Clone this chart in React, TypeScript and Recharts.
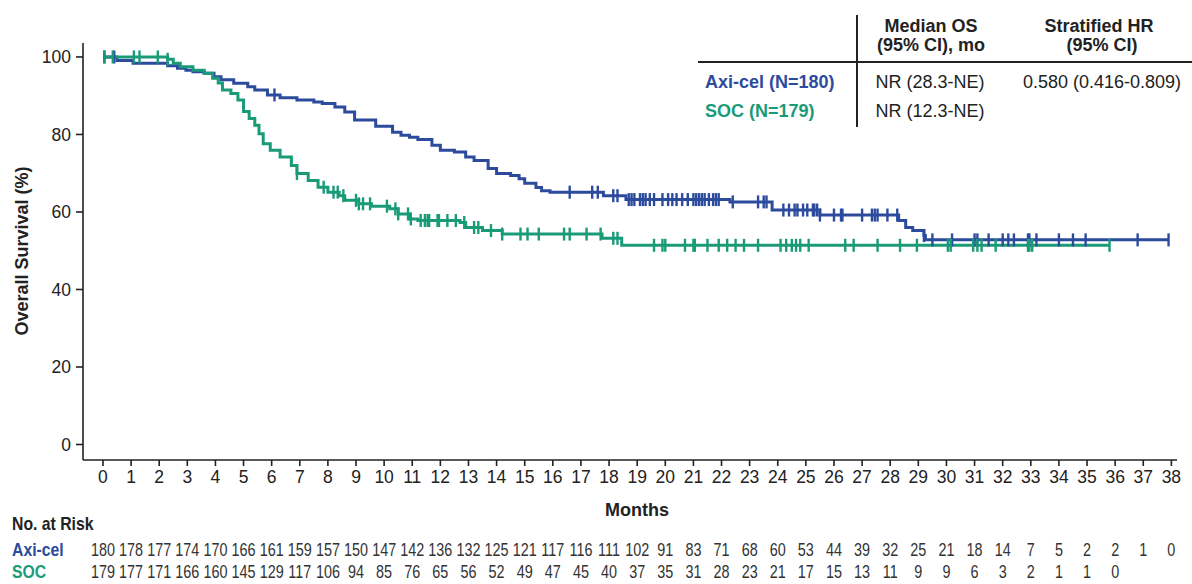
import React from 'react';
import { ComposedChart, Line, Scatter, XAxis, YAxis } from 'recharts';

const BLUE = '#2c4b9d';
const GREEN = '#1a9b78';
const INK = '#222222';
const FONT = "'Liberation Sans', Arial, sans-serif";

const monthTicks = [0, 1, 2, 3, 4, 5, 6, 7, 8, 9, 10, 11, 12, 13, 14, 15, 16, 17, 18, 19, 20, 21, 22, 23, 24, 25, 26, 27, 28, 29, 30, 31, 32, 33, 34, 35, 36, 37, 38];
const survivalTicks = [0, 20, 40, 60, 80, 100];

const axiTimes = [0, 0.5, 1.07, 2.3, 2.65, 2.95, 3.2, 3.6, 3.95, 4.2, 4.65, 5.15, 5.4, 5.85, 6.3, 6.9, 7.5, 7.8, 8.25, 8.6, 8.95, 9.7, 10.3, 10.6, 10.9, 11.2, 11.7, 12.0, 12.5, 12.9, 13.2, 13.7, 14.0, 14.5, 14.8, 15.0, 15.4, 15.6, 15.9, 17.8, 18.6, 22.3, 23.8, 25.5, 28.3, 28.55, 28.8, 29.2, 29.25, 37.9];
const axiSurv = [100, 99.1, 98.4, 97.7, 97.1, 96.6, 96.2, 95.8, 94.9, 94.1, 93.2, 92.3, 91.5, 90.2, 89.5, 88.9, 88.4, 88.0, 87.1, 85.8, 83.7, 82.1, 80.6, 79.8, 79.3, 78.7, 77.2, 75.9, 75.5, 74.2, 73.3, 71.2, 69.9, 69.4, 68.6, 67.4, 66.3, 65.5, 65.1, 64.2, 63.2, 62.6, 60.5, 59.2, 57.8, 56.0, 55.2, 53.9, 52.8, 52.8];

const socTimes = [0, 2.3, 2.5, 2.75, 3.2, 3.6, 3.9, 4.1, 4.25, 4.55, 4.8, 5.0, 5.2, 5.4, 5.55, 5.7, 5.95, 6.3, 6.7, 6.9, 7.3, 7.65, 8.0, 8.4, 8.6, 9.1, 9.55, 10.2, 10.5, 10.9, 11.2, 12.7, 12.9, 13.5, 14.2, 17.75, 18.45, 35.8];
const socSurv = [100, 99.4, 98.4, 97.5, 96.6, 95.8, 94.5, 93.3, 91.5, 90.6, 88.9, 85.9, 84.1, 82.4, 80.2, 77.6, 75.9, 74.2, 72.0, 69.9, 68.1, 66.4, 65.1, 64.2, 63.0, 62.1, 61.5, 60.8, 59.5, 58.2, 57.8, 57.3, 56.0, 55.2, 54.3, 53.2, 51.4, 51.4];

const axiCensor = [0.05, 0.4, 6.1, 16.6, 17.4, 17.6, 18.15, 18.3, 18.7, 18.8, 18.9, 19.1, 19.2, 19.3, 19.45, 19.6, 19.9, 20.1, 20.25, 20.4, 20.6, 20.8, 21.0, 21.1, 21.2, 21.3, 21.4, 21.55, 21.7, 21.8, 21.9, 22.4, 23.3, 23.5, 23.6, 24.2, 24.4, 24.6, 24.7, 24.9, 25.05, 25.25, 25.3, 25.4, 25.5, 26.0, 26.25, 26.3, 27.0, 27.35, 27.45, 27.55, 27.9, 28.25, 29.2, 29.5, 30.2, 31.0, 31.1, 31.5, 32.0, 32.2, 32.4, 32.9, 32.95, 33.2, 34.0, 34.5, 34.95, 36.8, 37.9];
const socCensor = [0.05, 0.35, 1.1, 1.3, 1.95, 2.3, 6.9, 7.85, 8.2, 8.35, 8.55, 9.0, 9.1, 9.25, 9.5, 10.1, 10.4, 10.5, 10.85, 10.95, 11.3, 11.45, 11.55, 11.6, 11.9, 11.95, 12.25, 12.55, 12.85, 13.2, 13.35, 13.8, 14.2, 14.85, 15.1, 15.5, 16.4, 16.6, 17.2, 17.7, 18.15, 18.3, 19.6, 19.9, 20.0, 20.7, 21.0, 21.05, 21.5, 21.9, 22.2, 22.5, 22.8, 23.3, 24.1, 24.3, 24.5, 24.65, 24.8, 25.1, 26.4, 26.7, 27.55, 28.35, 28.95, 30.05, 30.15, 30.95, 31.1, 31.25, 31.75, 32.9, 32.95, 33.05, 35.8];

const axiAtRisk = [180, 178, 177, 174, 170, 166, 161, 159, 157, 150, 147, 142, 136, 132, 125, 121, 117, 116, 111, 102, 91, 83, 71, 68, 60, 53, 44, 39, 32, 25, 21, 18, 14, 7, 5, 2, 2, 1, 0];
const socAtRisk = [179, 177, 171, 166, 160, 145, 129, 117, 106, 94, 85, 76, 65, 56, 52, 49, 47, 45, 40, 37, 35, 31, 28, 23, 21, 17, 15, 13, 11, 9, 9, 6, 3, 2, 1, 1, 0];

const toSteps = (times: number[], surv: number[]) => times.map((t, i) => ({ t, s: surv[i] }));
const survAt = (times: number[], surv: number[], t: number) => {
  let s = surv[0];
  for (let i = 0; i < times.length; i++) if (times[i] <= t) s = surv[i];
  return s;
};
const toCensor = (cs: number[], times: number[], surv: number[]) => cs.map((t) => ({ t, s: survAt(times, surv, t) }));
const toRisk = (counts: number[]) => counts.map((n, i) => ({ t: monthTicks[i], s: 0, n }));

const axiData = toSteps(axiTimes, axiSurv);
const socData = toSteps(socTimes, socSurv);
const axiMarks = toCensor(axiCensor, axiTimes, axiSurv);
const socMarks = toCensor(socCensor, socTimes, socSurv);
const axiRiskData = toRisk(axiAtRisk);
const socRiskData = toRisk(socAtRisk);

const X_DOMAIN: [number, number] = [-0.71, 38.2];
const Y_DOMAIN: [number, number] = [-4, 103.6];

const makeTick = (color: string) => (props: any) => {
  const { cx, cy } = props;
  if (cx == null || cy == null) return <g />;
  return <line x1={cx} x2={cx} y1={cy - 6.5} y2={cy + 6.5} stroke={color} strokeWidth={2.4} />;
};
const Empty = () => <g />;

const makeRiskTick = (counts: number[]) => (props: any) => {
  const { x, y, payload } = props;
  const v = counts[payload?.value];
  if (v === undefined) return <g />;
  return (
    <text
      transform={`translate(${x},${y}) scale(0.8,1)`}
      x={0}
      y={0}
      dy="0.71em"
      textAnchor="middle"
      fontSize={18}
      fill="#333"
      fontFamily={FONT}
    >
      {String(v)}
    </text>
  );
};

const T = ({ x, y, children, style, anchor = 'middle' }: any) => (
  <div
    style={{
      position: 'absolute',
      left: x,
      top: y,
      transform: `translate(${anchor === 'middle' ? '-50%' : anchor === 'end' ? '-100%' : '0'}, -50%)`,
      whiteSpace: 'nowrap',
      lineHeight: 1,
      fontSize: 18,
      color: INK,
      ...style,
    }}
  >
    {children}
  </div>
);

const narrowLabel = { fontWeight: 'bold', fontSize: 19, transform: 'translate(0, -50%) scale(0.83, 1)', transformOrigin: '0 50%' };

export default function App() {
  return (
    <div style={{ position: 'absolute', left: 0, top: 0, width: 1192, height: 584, background: '#fff', fontFamily: FONT, overflow: 'hidden' }}>
      <ComposedChart width={1192} height={584} margin={{ top: 43, right: 15, bottom: 2, left: 0 }} style={{ fontFamily: FONT }}>
        <XAxis
          xAxisId={0}
          dataKey="t"
          type="number"
          domain={X_DOMAIN}
          ticks={monthTicks}
          interval={0}
          allowDataOverflow
          height={78}
          tickSize={6}
          tickMargin={5}
          stroke={INK}
          strokeWidth={1.6}
          tick={{ fontSize: 17.5, fill: INK }}
        />
        <XAxis
          xAxisId="axi"
          dataKey="t"
          type="number"
          domain={X_DOMAIN}
          ticks={monthTicks}
          interval={0}
          allowDataOverflow
          height={22}
          tickSize={0}
          tickMargin={5}
          axisLine={false}
          tickLine={false}
          tick={makeRiskTick(axiAtRisk)}
        />
        <XAxis
          xAxisId="soc"
          dataKey="t"
          type="number"
          domain={X_DOMAIN}
          ticks={monthTicks}
          interval={0}
          allowDataOverflow
          height={22}
          tickSize={0}
          tickMargin={5}
          axisLine={false}
          tickLine={false}
          tick={makeRiskTick(socAtRisk)}
        />
        <YAxis
          dataKey="s"
          type="number"
          domain={Y_DOMAIN}
          ticks={survivalTicks}
          interval={0}
          allowDataOverflow
          width={83}
          tickSize={7}
          tickMargin={5}
          stroke={INK}
          strokeWidth={1.6}
          tick={{ fontSize: 17.5, fill: INK }}
        />
        <Line data={axiData} dataKey="s" type="stepAfter" stroke={BLUE} strokeWidth={3} dot={false} activeDot={false} isAnimationActive={false} />
        <Line data={socData} dataKey="s" type="stepAfter" stroke={GREEN} strokeWidth={3} dot={false} activeDot={false} isAnimationActive={false} />
        <Scatter data={axiMarks} dataKey="s" shape={makeTick(BLUE)} isAnimationActive={false} />
        <Scatter data={socMarks} dataKey="s" shape={makeTick(GREEN)} isAnimationActive={false} />
        <Scatter xAxisId="axi" data={axiRiskData} dataKey="s" shape={Empty} isAnimationActive={false} />
        <Scatter xAxisId="soc" data={socRiskData} dataKey="s" shape={Empty} isAnimationActive={false} />
      </ComposedChart>

      <T x={22} y={251} style={{ transform: 'translate(-50%, -50%) rotate(-90deg)', fontWeight: 'bold' }}>Overall Survival (%)</T>
      <T x={637} y={510} style={{ fontWeight: 'bold' }}>Months</T>
      <T x={12} y={523} anchor="start" style={narrowLabel}>No. at Risk</T>
      <T x={12} y={549} anchor="start" style={{ ...narrowLabel, color: BLUE }}>Axi-cel</T>
      <T x={12} y={571} anchor="start" style={{ ...narrowLabel, color: GREEN }}>SOC</T>

      <div style={{ position: 'absolute', left: 856, top: 15, width: 2, height: 112, background: INK }} />
      <div style={{ position: 'absolute', left: 698, top: 61, width: 494, height: 2, background: INK }} />
      <T x={931} y={26} style={{ fontWeight: 'bold' }}>Median OS</T>
      <T x={931} y={45} style={{ fontWeight: 'bold' }}>(95% CI), mo</T>
      <T x={1099} y={26} style={{ fontWeight: 'bold' }}>Stratified HR</T>
      <T x={1102} y={45} style={{ fontWeight: 'bold' }}>(95% CI)</T>
      <T x={705} y={82} anchor="start" style={{ fontWeight: 'bold', color: BLUE }}>Axi-cel (N=180)</T>
      <T x={705} y={111} anchor="start" style={{ fontWeight: 'bold', color: GREEN }}>SOC (N=179)</T>
      <T x={930} y={82}>NR (28.3-NE)</T>
      <T x={930} y={111}>NR (12.3-NE)</T>
      <T x={1102} y={82}>0.580 (0.416-0.809)</T>
    </div>
  );
}
